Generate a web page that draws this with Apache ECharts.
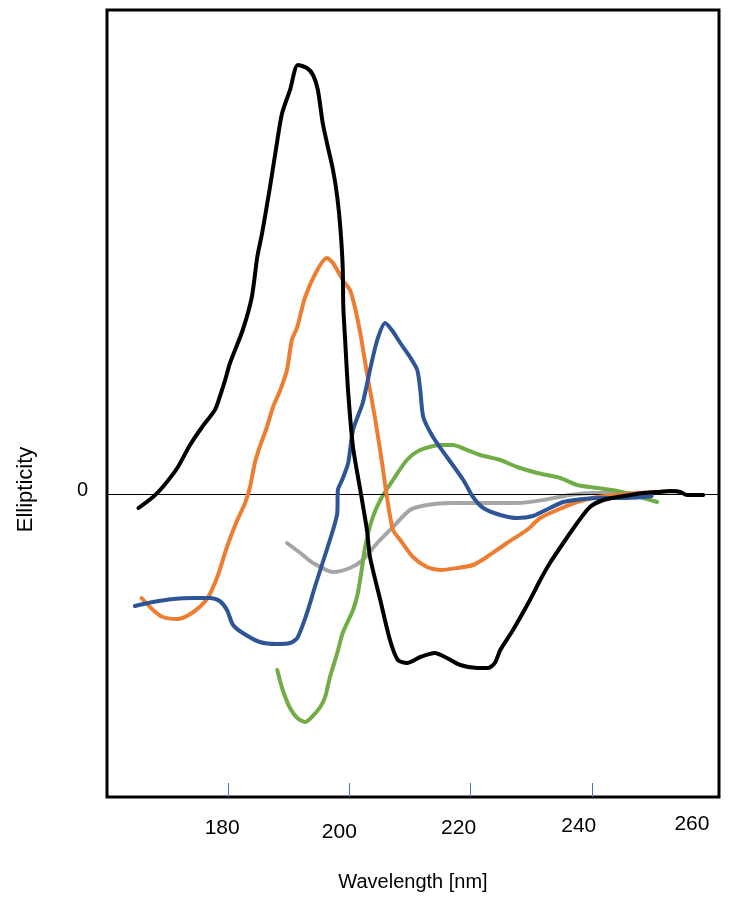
<!DOCTYPE html>
<html>
<head>
<meta charset="utf-8">
<script src="https://cdn.jsdelivr.net/npm/echarts@6/dist/echarts.min.js"></script>
<style>
html,body{margin:0;padding:0;background:#fff;}
#chart{width:731px;height:901px;}
</style>
</head>
<body>
<div id="chart"></div>
<script>
// Wavelength [nm] vs ellipticity (arbitrary units)
const xTickLabels = [180, 200, 220, 240, 260];
const xTickMarks = [180, 200, 220, 240];
const yTickLabels = [0];

const blackCurve = [[165.2,-1.4],[167.6,-0.3],[169.2,0.7],[171.6,2.6],[173.7,4.9],[175.7,6.7],[177.8,8.4],[178.6,9.7],[179.5,11.4],[180.3,13.1],[182.4,16.4],[183.9,19.7],[184.8,23.7],[185.6,26.1],[186.9,30.7],[188.2,35.7],[188.9,38.1],[190.2,40.4],[191.5,42.9],[193.0,42.6],[194.0,41.9],[194.8,40.4],[195.6,37.1],[196.3,35.1],[197.3,32.4],[198.0,29.7],[198.5,26.7],[198.9,22.7],[199.0,18.7],[199.3,15.4],[199.8,10.2],[200.6,4.7],[201.8,0.4],[202.9,-3.6],[203.4,-6.3],[205.1,-10.6],[206.7,-14.6],[208.0,-16.6],[209.5,-16.9],[211.7,-16.3],[214.1,-15.9],[216.1,-16.4],[218.3,-17.1],[221.1,-17.4],[222.9,-17.4],[224.0,-16.9],[224.9,-15.6],[227.0,-13.6],[229.8,-10.6],[231.5,-8.6],[233.1,-6.9],[235.3,-4.9],[237.6,-2.9],[239.7,-1.3],[241.9,-0.6],[244.2,-0.3],[246.3,-0.1],[248.5,0.1],[250.8,0.2],[252.9,0.3],[254.6,0.2],[255.7,-0.1],[258.4,-0.1]];

const orangeCurve = [[165.7,-10.4],[167.6,-11.6],[169.2,-12.3],[171.6,-12.5],[173.2,-12.2],[175.3,-11.3],[176.7,-10.3],[178.2,-8.3],[179.8,-5.3],[181.5,-2.6],[182.8,-0.9],[183.6,0.7],[184.4,3.1],[185.2,4.7],[186.4,6.7],[187.4,8.7],[188.6,10.4],[189.7,12.4],[190.5,15.4],[191.4,16.7],[192.7,19.7],[194.7,22.4],[196.3,23.6],[197.3,23.1],[198.9,21.4],[200.1,20.4],[200.9,18.7],[201.8,16.1],[202.9,12.1],[204.2,7.7],[205.4,3.1],[206.2,-0.3],[207.2,-3.6],[208.4,-4.6],[210.5,-6.3],[212.8,-7.3],[215.0,-7.6],[217.8,-7.4],[220.4,-7.1],[222.7,-6.3],[226.0,-4.9],[229.3,-3.6],[231.5,-2.4],[234.3,-1.6],[237.6,-0.8],[240.9,-0.3],[244.2,-0.1],[247.5,0.1],[250.8,0.2],[254.1,0.3]];

const blueCurve = [[164.6,-11.2],[167.6,-10.8],[170.9,-10.5],[174.2,-10.4],[177.0,-10.4],[178.6,-10.7],[179.8,-11.6],[180.8,-13.1],[182.4,-13.9],[185.2,-14.8],[188.1,-15.0],[190.2,-14.9],[191.4,-14.4],[193.0,-11.9],[194.3,-9.3],[195.2,-7.6],[197.3,-3.6],[198.0,-1.9],[198.1,0.4],[198.8,1.4],[199.8,3.1],[200.6,6.4],[202.2,9.1],[203.4,12.4],[204.6,15.4],[205.9,17.1],[207.0,16.4],[208.4,15.1],[210.0,13.7],[211.2,12.4],[211.7,10.4],[212.2,7.7],[213.8,5.7],[216.1,3.7],[218.8,1.4],[220.4,-0.3],[222.1,-1.4],[224.9,-2.1],[227.7,-2.4],[230.3,-2.2],[233.1,-1.4],[235.3,-0.8],[238.6,-0.5],[241.9,-0.4],[245.2,-0.4],[248.5,-0.3],[249.9,-0.2]];

const greenCurve = [[188.1,-17.6],[189.0,-19.6],[190.2,-21.4],[191.4,-22.4],[192.7,-22.8],[193.8,-22.3],[195.2,-21.3],[196.0,-20.3],[196.8,-18.3],[198.0,-15.9],[198.9,-13.9],[200.6,-11.6],[201.4,-9.9],[202.1,-7.3],[202.6,-5.3],[203.7,-2.6],[205.1,-0.6],[207.2,1.4],[209.5,3.4],[211.7,4.4],[215.0,4.9],[217.1,4.9],[219.4,4.4],[221.6,3.9],[224.9,3.4],[227.7,2.7],[231.0,2.1],[234.8,1.6],[237.6,0.9],[240.9,0.6],[244.2,0.3],[246.3,0.0],[248.5,-0.4],[250.8,-0.8]];

const grayCurve = [[189.7,-4.9],[191.9,-5.9],[194.0,-6.9],[197.3,-7.8],[200.1,-7.4],[202.2,-6.6],[204.6,-4.9],[207.2,-3.3],[210.0,-1.6],[212.8,-1.1],[216.6,-0.9],[222.1,-0.9],[227.7,-0.9],[232.0,-0.6],[236.4,-0.1],[240.2,0.1],[244.2,0.1],[246.3,0.1]];

const seriesDefs = [
  {name: 'gray', data: grayCurve, color: '#A5A5A5'},
  {name: 'green', data: greenCurve, color: '#70AD47'},
  {name: 'orange', data: orangeCurve, color: '#ED7D31'},
  {name: 'blue', data: blueCurve, color: '#2F5597'},
  {name: 'black', data: blackCurve, color: '#000000'}
];

const FONT = 'Liberation Sans, Arial, sans-serif';

// per-label nudges to match the reference's label placement
const labelNudge = {
  180: {padding: [5, 12, 0, 0]},
  200: {padding: [9, 20, 0, 0]},
  220: {padding: [5, 24, 0, 0]},
  240: {padding: [3, 26, 0, 0]},
  260: {padding: [1, 42, 0, 0]}
};
const rich = {};
xTickLabels.forEach(v => {
  rich['t' + v] = Object.assign({fontSize: 21, color: '#000', fontFamily: FONT}, labelNudge[v] || {});
});

const chart = echarts.init(document.getElementById('chart'));
const series = seriesDefs.map((s, i) => ({
  type: 'line',
  name: s.name,
  data: s.data,
  showSymbol: false,
  symbol: 'none',
  smooth: 0.25,
  lineStyle: {color: s.color, width: 4, cap: 'round', join: 'round'},
  z: 3 + i,
  animation: false
}));
series.push({
  type: 'line',
  data: [],
  markLine: {
    silent: true,
    symbol: 'none',
    label: {show: false},
    lineStyle: {color: '#000', width: 1, type: 'solid'},
    data: [{yAxis: 0}],
    animation: false
  },
  z: 2
});

chart.setOption({
  backgroundColor: '#fff',
  animation: false,
  grid: {left: 107, top: 10, width: 612, height: 787, show: true, borderColor: '#000', borderWidth: 3, backgroundColor: 'transparent'},
  xAxis: {
    type: 'value',
    min: 160,
    max: 261,
    interval: 20,
    name: 'Wavelength [nm]',
    nameLocation: 'middle',
    nameGap: 75,
    nameTextStyle: {fontSize: 20, color: '#000', fontFamily: FONT},
    axisLine: {show: false, onZero: false},
    axisTick: {show: true, inside: true, length: 14, customValues: xTickMarks, lineStyle: {color: '#4472C4', width: 1}},
    axisLabel: {
      customValues: xTickLabels,
      margin: 16,
      formatter: v => '{t' + v + '|' + v + '}',
      rich: rich
    },
    splitLine: {show: false}
  },
  yAxis: {
    type: 'value',
    min: -30.3,
    max: 48.4,
    name: 'Ellipticity',
    nameLocation: 'middle',
    nameGap: 70,
    nameTextStyle: {fontSize: 22, color: '#000', fontFamily: FONT, padding: [0, 172, 0, 0]},
    axisLine: {show: false, onZero: false},
    axisTick: {show: false},
    axisLabel: {
      customValues: yTickLabels,
      margin: 19,
      formatter: v => '{z|' + v + '}',
      rich: {z: {fontSize: 20, color: '#000', fontFamily: FONT, padding: [0, 0, 8, 0]}}
    },
    splitLine: {show: false}
  },
  series: series
});
</script>
</body>
</html>
